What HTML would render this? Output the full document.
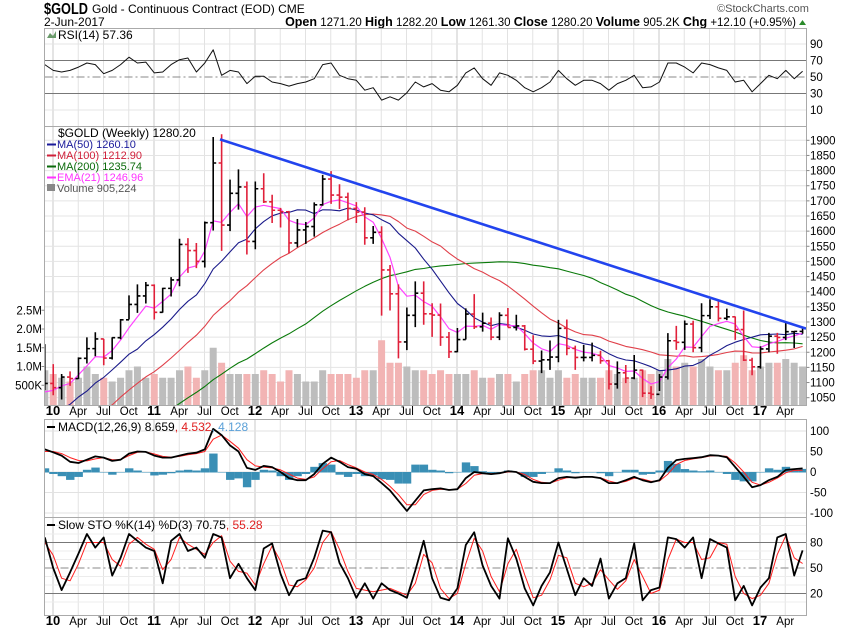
<!DOCTYPE html>
<html><head><meta charset="utf-8"><style>
body{margin:0;background:#fff;width:850px;height:633px;overflow:hidden;font-family:"Liberation Sans",Arial,sans-serif}
svg text{font-family:"Liberation Sans",Arial,sans-serif}
</style></head><body>
<svg id="c" width="850" height="633" viewBox="0 0 850 633" xmlns="http://www.w3.org/2000/svg">
<text x="44" y="14" font-size="16" font-weight="bold" textLength="44" lengthAdjust="spacingAndGlyphs">$GOLD</text>
<text x="92" y="13" font-size="12">Gold - Continuous Contract (EOD)  CME</text>
<text x="44" y="26" font-size="12">2-Jun-2017</text>
<text x="717" y="12" font-size="11" fill="#555">©StockCharts.com</text>
<text x="796" y="26" font-size="11.5" text-anchor="end"><tspan font-weight="bold" font-size="12.5">Open</tspan> 1271.20 <tspan font-weight="bold" font-size="12.5">High</tspan> 1282.20 <tspan font-weight="bold" font-size="12.5">Low</tspan> 1261.30 <tspan font-weight="bold" font-size="12.5">Close</tspan> 1280.20 <tspan font-weight="bold" font-size="12.5">Volume</tspan> 905.2K <tspan font-weight="bold" font-size="12.5">Chg</tspan> +12.10 (+0.95%)</text>
<path d="M799 25 L806 25 L802.5 20 Z" fill="#2a8a2a"/>
<g id="grid"></g>
<g id="plots"></g>
<g id="frames" fill="none" stroke="#aaa" stroke-width="1">
<rect x="44.5" y="28.5" width="762" height="98"/>
<rect x="44.5" y="126.5" width="762" height="279"/>
<rect x="44.5" y="419.5" width="762" height="98"/>
<rect x="44.5" y="517.5" width="762" height="98"/>
</g>
<g id="legends" font-size="12">
<text x="58" y="39">RSI(14) 57.36</text>
<path d="M47 38 L50 33 L53 36 L56 31 L56 38 Z" fill="#6a9a6a"/>
<text x="58" y="137">$GOLD (Weekly) 1280.20</text>
<text x="57" y="148" fill="#1a1a9a" font-size="11">MA(50) 1260.10</text>
<text x="57" y="159" fill="#d0203a" font-size="11">MA(100) 1212.90</text>
<text x="57" y="170" fill="#0a6a0a" font-size="11">MA(200) 1235.74</text>
<text x="57" y="181" fill="#ff33ff" font-size="11">EMA(21) 1246.96</text>
<text x="57" y="192" fill="#555" font-size="11">Volume 905,224</text>
<line x1="47" y1="144.5" x2="56" y2="144.5" stroke="#1a1a9a" stroke-width="2"/>
<line x1="47" y1="155.5" x2="56" y2="155.5" stroke="#d0203a" stroke-width="2"/>
<line x1="47" y1="166.5" x2="56" y2="166.5" stroke="#0a6a0a" stroke-width="2"/>
<line x1="47" y1="177.5" x2="56" y2="177.5" stroke="#ff33ff" stroke-width="2"/>
<rect x="47" y="184" width="8" height="7" fill="#888"/>
<text x="58" y="431">MACD(12,26,9) 8.659<tspan fill="#e02020">, 4.532</tspan><tspan fill="#5aa0d8">, 4.128</tspan></text>
<line x1="47" y1="427" x2="55" y2="427" stroke="#000" stroke-width="2"/>
<text x="58" y="529">Slow STO %K(14) %D(3) 70.75<tspan fill="#e02020">, 55.28</tspan></text>
<line x1="47" y1="525" x2="55" y2="525" stroke="#000" stroke-width="2"/>
</g>
<g id="axes" font-size="11.5"></g>
</svg>
<script>
// ---- data (monthly samples of weekly chart, Dec 2009 .. Jun 2017) ----
const months = ["Dec09","Jan10","Feb10","Mar10","Apr10","May10","Jun10","Jul10","Aug10","Sep10","Oct10","Nov10","Dec10","Jan11","Feb11","Mar11","Apr11","May11","Jun11","Jul11","Aug11","Sep11","Oct11","Nov11","Dec11","Jan12","Feb12","Mar12","Apr12","May12","Jun12","Jul12","Aug12","Sep12","Oct12","Nov12","Dec12","Jan13","Feb13","Mar13","Apr13","May13","Jun13","Jul13","Aug13","Sep13","Oct13","Nov13","Dec13","Jan14","Feb14","Mar14","Apr14","May14","Jun14","Jul14","Aug14","Sep14","Oct14","Nov14","Dec14","Jan15","Feb15","Mar15","Apr15","May15","Jun15","Jul15","Aug15","Sep15","Oct15","Nov15","Dec15","Jan16","Feb16","Mar16","Apr16","May16","Jun16","Jul16","Aug16","Sep16","Oct16","Nov16","Dec16","Jan17","Feb17","Mar17","Apr17","May17","Jun17"];
const highs = [1227,1161,1128,1137,1183,1249,1266,1244,1249,1310,1388,1424,1432,1424,1413,1448,1575,1577,1561,1632,1911,1920,1770,1804,1764,1764,1791,1720,1677,1667,1640,1630,1695,1786,1798,1755,1727,1696,1679,1617,1616,1488,1424,1348,1434,1434,1362,1361,1267,1280,1345,1392,1331,1315,1332,1346,1324,1290,1256,1206,1239,1307,1308,1222,1224,1232,1205,1175,1170,1158,1191,1143,1088,1128,1263,1287,1305,1304,1362,1375,1371,1344,1318,1338,1182,1220,1264,1264,1297,1270,1282];
const lows = [1075,1058,1044,1089,1112,1163,1187,1157,1176,1243,1308,1330,1361,1308,1331,1384,1418,1462,1478,1480,1602,1535,1600,1671,1523,1540,1693,1627,1612,1527,1547,1558,1582,1684,1690,1673,1636,1627,1555,1558,1321,1338,1180,1207,1283,1291,1251,1221,1181,1200,1242,1277,1268,1240,1240,1282,1272,1206,1161,1131,1142,1167,1190,1142,1170,1170,1162,1077,1080,1098,1111,1052,1046,1072,1110,1208,1208,1200,1200,1310,1302,1306,1241,1171,1124,1146,1200,1195,1240,1214,1261];
const closes = [1097,1083,1118,1113,1180,1212,1244,1181,1248,1307,1358,1386,1421,1332,1411,1439,1556,1536,1500,1628,1825,1620,1725,1746,1566,1740,1697,1669,1664,1561,1604,1615,1687,1772,1719,1712,1675,1663,1578,1596,1472,1393,1234,1322,1395,1327,1323,1250,1202,1242,1326,1284,1296,1250,1322,1282,1287,1210,1171,1175,1184,1279,1213,1183,1183,1190,1172,1095,1132,1115,1141,1065,1061,1118,1238,1233,1293,1215,1321,1350,1312,1317,1275,1174,1152,1211,1253,1249,1268,1269,1280];
const histCloses = [568,556,582,654,643,614,632,623,599,604,646,632,651,665,662,679,659,650,666,673,743,789,783,834,923,971,916,864,885,926,913,833,880,718,814,882,928,942,916,891,978,927,954,953,1001,1040,1182];
const volumeM = [0.9,0.8,0.7,0.6,0.7,1.0,0.8,0.7,0.6,0.7,0.9,1.0,0.7,0.8,0.7,0.7,0.9,1.0,0.7,0.9,1.5,1.1,0.8,0.8,0.8,0.8,0.9,0.8,0.6,0.9,0.8,0.6,0.6,0.9,0.8,0.8,0.8,0.7,0.9,0.9,1.7,1.1,1.1,1.0,0.9,0.9,0.8,0.9,0.8,0.8,0.8,0.9,0.7,0.7,0.8,0.8,0.6,0.8,0.9,0.9,0.7,0.9,0.7,0.8,0.7,0.7,0.7,0.9,0.8,0.7,0.7,0.9,0.8,0.9,1.2,1.0,1.1,1.0,1.2,1.0,0.9,0.9,1.1,1.3,0.9,1.0,1.1,1.1,1.2,1.1,1.0];
const rsi = [65,58,56,58,62,67,65,54,58,65,74,67,68,55,56,65,71,73,56,67,83,52,58,56,42,51,51,44,42,39,42,44,48,65,67,52,48,46,34,37,22,26,22,31,44,38,42,34,32,40,55,61,48,40,55,52,46,37,32,37,44,58,48,40,46,46,42,34,42,46,52,37,38,44,67,67,62,55,67,65,61,58,44,46,32,42,52,48,58,48,57];
const macd = [55,48,40,25,22,30,38,35,27,30,45,50,49,40,35,35,40,45,47,55,105,90,65,50,10,5,15,12,0,-15,-20,-20,-5,20,35,25,12,8,-5,-10,-27,-45,-70,-95,-70,-45,-42,-40,-44,-42,-15,0,-3,-5,-3,2,0,-12,-24,-27,-27,-15,-12,-14,-12,-12,-15,-27,-27,-20,-12,-20,-25,-20,10,29,32,34,36,41,40,36,12,-12,-37,-32,-20,-12,5,7,8.7];
const signal = [50,50,45,35,28,27,32,35,30,30,40,48,49,44,38,36,38,42,45,50,80,90,75,58,30,15,12,10,5,-5,-15,-18,-12,8,25,28,18,10,0,-6,-18,-35,-55,-80,-80,-55,-45,-42,-43,-42,-28,-8,-4,-4,-3,0,0,-6,-18,-25,-27,-20,-14,-13,-12,-12,-14,-22,-27,-23,-15,-17,-23,-22,-5,18,28,32,35,39,40,38,22,0,-25,-32,-25,-15,-2,4,4.5];
const stoK = [86,50,24,45,67,90,74,86,41,62,90,82,74,70,32,82,90,70,74,62,90,86,38,55,38,24,73,79,43,18,35,38,62,94,92,56,38,15,32,14,32,24,20,15,47,82,38,15,12,26,77,92,53,29,14,85,61,26,6,29,45,80,49,18,38,29,61,14,32,38,79,12,24,27,86,84,74,86,38,84,79,74,12,29,6,27,38,86,90,41,70.75];
const stoD = [80,65,38,35,55,80,80,80,60,52,78,86,78,72,48,60,86,78,72,66,80,88,58,46,44,30,55,76,58,30,28,36,50,80,93,72,46,26,24,22,24,26,22,18,32,66,56,26,14,20,55,85,70,40,22,55,72,42,15,18,36,65,62,32,28,32,48,36,25,35,60,40,20,24,60,84,80,80,60,62,80,78,40,20,14,18,32,66,88,62,55.28];
const priceTicks = [1900,1850,1800,1750,1700,1650,1600,1550,1500,1450,1400,1350,1300,1250,1200,1150,1100,1050];
const volTicks = [0.5,1.0,1.5,2.0,2.5];
const volTickLabels = ["500K","1.0M","1.5M","2.0M","2.5M"];
const rsiTicks = [90,70,50,30,10];
const macdTicks = [100,50,0,-50,-100];
const stoTicks = [80,50,20];
const xLabels = ["10","Apr","Jul","Oct","11","Apr","Jul","Oct","12","Apr","Jul","Oct","13","Apr","Jul","Oct","14","Apr","Jul","Oct","15","Apr","Jul","Oct","16","Apr","Jul","Oct","17","Apr"];
const trendStart = [220, 1903];
const trendEnd = [806, 1278];

// ---- scales ----
const NS="http://www.w3.org/2000/svg";
const L=44.5,R=806.5;
const xOf=i=>44.8+i*8.42;
const xQ=q=>53+q*25.25;
const yP=p=>140.3+(1900-p)*0.3028;
const yV=v=>404-v*37.5;
const yR=v=>77-(v-50)*0.825;
const yM=v=>472-v*0.41;
const yS=v=>568-(v-50)*0.85;
function el(tag,attrs,parent){const e=document.createElementNS(NS,tag);for(const k in attrs)e.setAttribute(k,attrs[k]);parent.appendChild(e);return e;}
const svg=document.getElementById('c');
const grid=document.getElementById('grid'),plots=document.getElementById('plots'),axes=document.getElementById('axes');
const defs=el('defs',{},svg);
[['cp-rsi',28,98],['cp-price',126,279],['cp-macd',419,98],['cp-sto',517,98]].forEach(([id,y,h])=>{const c=el('clipPath',{id:id},defs);el('rect',{x:L,y:y,width:R-L,height:h},c);});

const panels=[[28,127],[126,406],[419,518],[517,616]];
xLabels.forEach((lab,q)=>{
  const x=xQ(q);const yr=q%4===0;
  panels.forEach(([a,b])=>{const g=el('line',{x1:x,x2:x,y1:a,y2:b,stroke:yr?'#c8c8c8':'#e2e2e2','stroke-width':1},grid);
    
    });
  [415,625].forEach(y=>{const t=el('text',{x:x,y:y,'text-anchor':'middle','font-size':yr?13:11.5,'font-weight':yr?'bold':'normal'},axes);t.textContent=lab;
    
    });
});
priceTicks.forEach(p=>{const y=yP(p);
  const g=el('line',{x1:L,x2:R,y1:y,y2:y,stroke:'#e4e4e4'},grid);
  
  
  el('line',{x1:R,x2:R+3,y1:y,y2:y,stroke:'#888'},axes);
  const t=el('text',{x:810,y:y+4},axes);t.textContent=p;
  
  });
volTicks.forEach((v,k)=>{const y=yV(v);
  el('line',{x1:L-3,x2:L,y1:y,y2:y,stroke:'#888'},axes);
  const t=el('text',{x:42,y:y+4,'text-anchor':'end'},axes);t.textContent=volTickLabels[k];
  
  });
rsiTicks.forEach(v=>{const y=yR(v);const main=(v===70||v===30);
  const g=el('line',{x1:L,x2:R,y1:y,y2:y,stroke:main?'#777':(v===50?'#888':'#e4e4e4'),'stroke-dasharray':v===50?'8,3,2,3':'none'},grid);
  
  
  const t=el('text',{x:810,y:y+4},axes);t.textContent=v;
  
  });
macdTicks.forEach(v=>{const y=yM(v);
  const g=el('line',{x1:L,x2:R,y1:y,y2:y,stroke:'#e2e2e2'},grid);
  
  
  const t=el('text',{x:810,y:y+4},axes);t.textContent=v;
  
  });
for(let v=10;v<=100;v+=10){const y=yS(v);
  const main=stoTicks.includes(v);
  const g=el('line',{x1:L,x2:R,y1:y,y2:y,stroke:main?(v===50?'#888':'#777'):'#ececec','stroke-dasharray':v===50?'8,3,2,3':'none'},grid);
  
  
  if(main){const t=el('text',{x:810,y:y+4},axes);t.textContent=v;
    
    }}

// ---- price panel ----
const gp=el('g',{'clip-path':'url(#cp-price)'},plots);
volumeM.forEach((v,i)=>{const down=i>0&&closes[i]<closes[i-1];
  const r=el('rect',{x:xOf(i)-3.5,y:yV(v),width:7,height:404-yV(v)+2,fill:down?'#f2b4b4':'#bdbdbd'},gp);
  
  });
const all=histCloses.concat(closes),off=histCloses.length;
function sma(n){return closes.map((c,i)=>{let s=0;for(let k=0;k<n;k++)s+=all[off+i-k];return s/n;});}
function ema(n){const a=2/(n+1);let e=all[0];const out=[];all.forEach((c,j)=>{e=j?a*c+(1-a)*e:c;if(j>=off)out.push(e);});return out;}
function line(vals,yf,color,w,parent,name){const d=vals.map((v,i)=>(i?'L':'M')+xOf(i).toFixed(1)+' '+yf(v).toFixed(1)).join(' ');
  const p=el('path',{d:d,fill:'none',stroke:color,'stroke-width':w,'stroke-linejoin':'round'},parent);
  
  return p;}
line(sma(46),yP,'#0a7a0a',1.1,gp,'ma200-line');
line(sma(23),yP,'#e0404a',1.1,gp,'ma100-line');
line(sma(12),yP,'#1a1a8a',1.1,gp,'ma50-line');
line(ema(4.85),yP,'#ff44ff',1.2,gp,'ema21-line');
closes.forEach((c,i)=>{const down=i>0&&c<closes[i-1];const col=down?'#e0203a':'#000';const x=xOf(i);
  const b=el('path',{d:`M${x} ${yP(highs[i])} L${x} ${yP(lows[i])} M${x-3} ${yP(i?closes[i-1]:c)} L${x} ${yP(i?closes[i-1]:c)} M${x} ${yP(c)} L${x+3} ${yP(c)}`,stroke:col,'stroke-width':1.6,fill:'none'},gp);
  
  });
const tl=el('line',{x1:trendStart[0],y1:yP(trendStart[1]),x2:trendEnd[0],y2:yP(trendEnd[1]),stroke:'#2244ee','stroke-width':2.6},gp);



// ---- RSI ----
const gr=el('g',{'clip-path':'url(#cp-rsi)'},plots);
line(rsi,yR,'#111',1,gr,'rsi-line');
// ---- MACD ----
const gm=el('g',{'clip-path':'url(#cp-macd)'},plots);
macd.forEach((m,i)=>{const h=(m-signal[i])*1.8;const y0=yM(0),y1=yM(h);
  const r=el('rect',{x:xOf(i)-4,y:Math.min(y0,y1),width:8.4,height:Math.abs(y1-y0)+0.5,fill:'#3a8fb5'},gm);
  
  });
line(signal,yM,'#ff2020',1,gm,'macd-signal-line');
line(macd,yM,'#000',1.8,gm,'macd-line');
// ---- STO ----
const gs=el('g',{'clip-path':'url(#cp-sto)'},plots);
line(stoD,yS,'#ff2020',1,gs,'sto-d-line');
line(stoK,yS,'#000',1.8,gs,'sto-k-line');
</script>
</body></html>
